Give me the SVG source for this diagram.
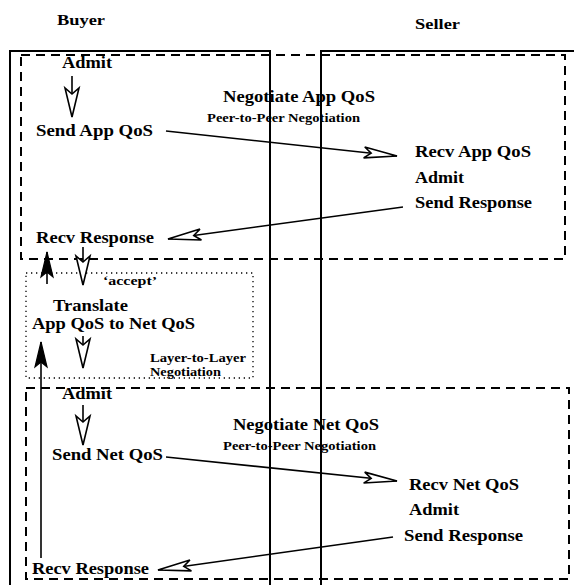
<svg xmlns="http://www.w3.org/2000/svg" width="574" height="585" viewBox="0 0 574 585">
  <style>
    text { font-family: "Liberation Serif", "Times New Roman", serif; font-weight: bold; fill: #000; }
    .big { font-size: 17px; }
    .mid { font-size: 16px; }
    .head { font-size: 15px; }
    .small { font-size: 12px; }
    .frame { fill: none; stroke: #000; stroke-width: 2; }
    .dash { fill: none; stroke: #000; stroke-width: 2; stroke-dasharray: 9 6; }
    .dot { fill: none; stroke: #000; stroke-width: 1.3; stroke-dasharray: 1.3 3.7; }
    .link { fill: none; stroke: #000; stroke-width: 1.6; }
  </style>
  <defs>
    <marker id="openH" markerUnits="userSpaceOnUse" viewBox="-36 -8 38 16" markerWidth="38" markerHeight="16" refX="0" refY="0" orient="auto">
      <path d="M0,0 L-33,-5.5 L-26,0 L-33,5.5 Z" fill="#fff" stroke="#000" stroke-width="1.6" stroke-linejoin="miter"/>
    </marker>
    <marker id="openV" markerUnits="userSpaceOnUse" viewBox="-32 -9 34 18" markerWidth="34" markerHeight="18" refX="0" refY="0" orient="auto">
      <path d="M0,0 L-29,-7 L-23,0 L-29,7 Z" fill="#fff" stroke="#000" stroke-width="1.6" stroke-linejoin="miter"/>
    </marker>
    <marker id="solid" markerUnits="userSpaceOnUse" viewBox="-28 -8 30 16" markerWidth="30" markerHeight="16" refX="0" refY="0" orient="auto">
      <path d="M0,0 L-25,-6 L-20,0 L-25,6 Z" fill="#000" stroke="#000" stroke-width="1.2"/>
    </marker>
  </defs>

  <!-- party frames -->
  <g id="buyer">
    <path class="frame" d="M10,590 V51 H270 V590"/>
    <text class="head" x="57" y="25" textLength="48" lengthAdjust="spacingAndGlyphs">Buyer</text>
  </g>
  <g id="seller">
    <path class="frame" d="M321,590 V51 H576"/>
    <text class="head" x="415" y="29" textLength="45" lengthAdjust="spacingAndGlyphs">Seller</text>
  </g>

  <!-- application-level negotiation -->
  <g id="app-negotiation">
    <rect class="dash" x="21" y="55" width="544" height="204"/>
    <text class="big" x="223" y="102" textLength="152" lengthAdjust="spacingAndGlyphs">Negotiate App QoS</text>
    <text class="small" x="207" y="122" textLength="153" lengthAdjust="spacingAndGlyphs">Peer-to-Peer Negotiation</text>
  </g>
  <g id="buyer-admit-app"><text class="big" x="62" y="68" textLength="50" lengthAdjust="spacingAndGlyphs">Admit</text></g>
  <g id="send-app-qos"><text class="big" x="36" y="136" textLength="117" lengthAdjust="spacingAndGlyphs">Send App QoS</text></g>
  <g id="recv-app-qos"><text class="big" x="415" y="157" textLength="116" lengthAdjust="spacingAndGlyphs">Recv App QoS</text></g>
  <g id="seller-admit-app"><text class="big" x="415" y="183" textLength="49" lengthAdjust="spacingAndGlyphs">Admit</text></g>
  <g id="send-response-app"><text class="big" x="415" y="208" textLength="117" lengthAdjust="spacingAndGlyphs">Send Response</text></g>
  <g id="recv-response-app"><text class="big" x="36" y="243" textLength="118" lengthAdjust="spacingAndGlyphs">Recv Response</text></g>

  <!-- layer-to-layer translation -->
  <g id="translation">
    <rect class="dot" x="26" y="273" width="227" height="105"/>
    <text class="small" x="103" y="285" textLength="54" lengthAdjust="spacingAndGlyphs">‘accept’</text>
    <text class="mid" x="53" y="311" textLength="75" lengthAdjust="spacingAndGlyphs">Translate</text>
    <text class="mid" x="32" y="329" textLength="163" lengthAdjust="spacingAndGlyphs">App QoS to Net QoS</text>
    <text class="small" x="150" y="362" textLength="96" lengthAdjust="spacingAndGlyphs">Layer-to-Layer</text>
    <text class="small" x="150" y="376" textLength="71" lengthAdjust="spacingAndGlyphs">Negotiation</text>
  </g>

  <!-- network-level negotiation -->
  <g id="net-negotiation">
    <rect class="dash" x="26" y="388" width="543" height="191"/>
    <text class="big" x="233" y="430" textLength="146" lengthAdjust="spacingAndGlyphs">Negotiate Net QoS</text>
    <text class="small" x="223" y="450" textLength="153" lengthAdjust="spacingAndGlyphs">Peer-to-Peer Negotiation</text>
  </g>
  <g id="buyer-admit-net"><text class="big" x="62" y="399" textLength="50" lengthAdjust="spacingAndGlyphs">Admit</text></g>
  <g id="send-net-qos"><text class="big" x="52" y="460" textLength="111" lengthAdjust="spacingAndGlyphs">Send Net QoS</text></g>
  <g id="recv-net-qos"><text class="big" x="409" y="490" textLength="110" lengthAdjust="spacingAndGlyphs">Recv Net QoS</text></g>
  <g id="seller-admit-net"><text class="big" x="409" y="515" textLength="50" lengthAdjust="spacingAndGlyphs">Admit</text></g>
  <g id="send-response-net"><text class="big" x="404" y="541" textLength="119" lengthAdjust="spacingAndGlyphs">Send Response</text></g>
  <g id="recv-response-net"><text class="big" x="32" y="574" textLength="117" lengthAdjust="spacingAndGlyphs">Recv Response</text></g>

  <!-- connectors -->
  <g id="connectors">
    <line class="link" x1="72" y1="76" x2="72" y2="117" marker-end="url(#openV)"/>
    <line class="link" x1="166" y1="131" x2="397" y2="156" marker-end="url(#openH)"/>
    <line class="link" x1="403" y1="207" x2="168" y2="239" marker-end="url(#openH)"/>
    <line class="link" x1="83" y1="247" x2="83" y2="285" marker-end="url(#openV)"/>
    <line class="link" x1="47" y1="284" x2="47" y2="252" marker-end="url(#solid)"/>
    <line class="link" x1="83" y1="336" x2="83" y2="368" marker-end="url(#openV)"/>
    <line class="link" x1="83" y1="405" x2="83" y2="445" marker-end="url(#openV)"/>
    <line class="link" x1="166" y1="457" x2="397" y2="481" marker-end="url(#openH)"/>
    <line class="link" x1="393" y1="537" x2="158" y2="570" marker-end="url(#openH)"/>
    <line class="link" x1="41" y1="558" x2="41" y2="342" marker-end="url(#solid)"/>
  </g>
</svg>
